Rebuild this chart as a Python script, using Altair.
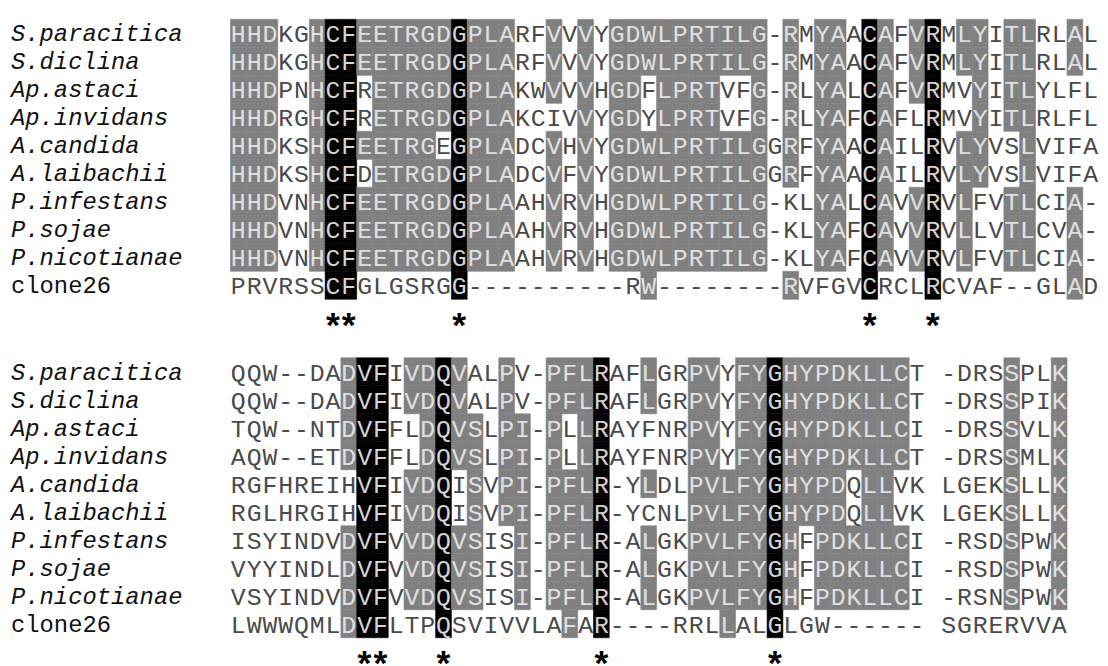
import altair as alt
import pandas as pd

names = ["S.paracitica", "S.diclina", "Ap.astaci", "Ap.invidans", "A.candida",
         "A.laibachii", "P.infestans", "P.sojae", "P.nicotianae", "clone26"]

top_seqs = [
    "HHDKGHCFEETRGDGPLARFVVVYGDWLPRTILG-RMYAACAFVRMLYITLRLAL",
    "HHDKGHCFEETRGDGPLARFVVVYGDWLPRTILG-RMYAACAFVRMLYITLRLAL",
    "HHDPNHCFRETRGDGPLAKWVVVHGDFLPRTVFG-RLYALCAFVRMVYITLYLFL",
    "HHDRGHCFRETRGDGPLAKCIVVYGDYLPRTVFG-RLYAFCAFLRMVYITLRLFL",
    "HHDKSHCFEETRGEGPLADCVHVYGDWLPRTILGGRFYAACAILRVLYVSLVIFA",
    "HHDKSHCFDETRGDGPLADCVFVYGDWLPRTILGGRFYAACAILRVLYVSLVIFA",
    "HHDVNHCFEETRGDGPLAAHVRVHGDWLPRTILG-KLYALCAVVRVLFVTLCIA-",
    "HHDVNHCFEETRGDGPLAAHVRVHGDWLPRTILG-KLYAFCAVVRVLLVTLCVA-",
    "HHDVNHCFEETRGDGPLAAHVRVHGDWLPRTILG-KLYAFCAVVRVLFVTLCIA-",
    "PRVRSSCFGLGSRGG----------RW--------RVFGVCRCLRCVAF--GLAD",
]
# g = grey box, b = black box, . = no box
top_shade = [
    "ggg..gbbgg" "ggggbggg.." "g.g.gggggg" "gggg.g.gg." "bg.gb.gg.g" "g..g.",
    "ggg..gbbgg" "ggggbggg.." "g.g.gggggg" "gggg.g.gg." "bg.gb.gg.g" "g..g.",
    "ggg..gbb.g" "ggggbggg.." "g.g.gg.ggg" "g..g.g.gg." "bg.gb..g.g" "g....",
    "ggg..gbb.g" "ggggbggg.." "..g.gg.ggg" "g..g.g.gg." "bg..b..g.g" "g....",
    "ggg..gbbgg" "ggg.bggg.." "g.g.gggggg" "gggg.g.gg." "bg..b.gg.." "g....",
    "ggg..gbb.g" "ggggbggg.." "g.g.gggggg" "gggg.g.gg." "bg..b.gg.." "g....",
    "ggg..gbbgg" "ggggbggg.." "g.g.gggggg" "gggg...gg." "bg.gb.g..g" "g..g.",
    "ggg..gbbgg" "ggggbggg.." "g.g.gggggg" "gggg...gg." "bg.gb.g..g" "g..g.",
    "ggg..gbbgg" "ggggbggg.." "g.g.gggggg" "gggg...gg." "bg.gb.g..g" "g..g.",
    "......bb.." "....b....." "......g..." ".....g...." "b...b....." "...g.",
]

bottom_seqs = [
    "QQW--DADVFIVDQVALPV-PFLRAFLGRPVYFYGHYPDKLLCT -DRSSPLK",
    "QQW--DADVFIVDQVALPV-PFLRAFLGRPVYFYGHYPDKLLCT -DRSSPIK",
    "TQW--NTDVFFLDQVSLPI-PLLRAYFNRPVYFYGHYPDKLLCI -DRSSVLK",
    "AQW--ETDVFFLDQVSLPI-PLLRAYFNRPVYFYGHYPDKLLCT -DRSSMLK",
    "RGFHREIHVFIVDQISVPI-PFLR-YLDLPVLFYGHYPDQLLVK LGEKSLLK",
    "RGLHRGIHVFIVDQISVPI-PFLR-YCNLPVLFYGHYPDQLLVK LGEKSLLK",
    "ISYINDVDVFVVDQVSISI-PFLR-ALGKPVLFYGHFPDKLLCI -RSDSPWK",
    "VYYINDLDVFVVDQVSISI-PFLR-ALGKPVLFYGHFPDKLLCI -RSDSPWK",
    "VSYINDVDVFVVDQVSISI-PFLR-ALGKPVLFYGHFPDKLLCI -RSNSPWK",
    "LWWWQMLDVFLTPQSVIVVLAFAR----RRLLALGLGW------ SGRERVVA",
]
bottom_shade = [
    ".......gbb" ".ggbg..g.." "gggb..g..g" "g.ggbggggg" "ggg......g" "..g",
    ".......gbb" ".ggbg..g.." "gggb..g..g" "g.ggbggggg" "ggg......g" "..g",
    ".......gbb" "..gbgg.gg." "g.gb.....g" "g.ggbggggg" "ggg......g" "..g",
    ".......gbb" "..gbgg.gg." "g.gb.....g" "g.ggbggggg" "ggg......g" "..g",
    "........bb" ".ggb.g.gg." "gggb..g..g" "ggggbgggg." "gg.......g" "..g",
    "........bb" ".ggb.g.gg." "gggb.....g" "ggggbgggg." "gg.......g" "..g",
    ".......gbb" ".ggbgg..g." "gggb..g..g" "ggggbg.ggg" "ggg......g" "..g",
    ".......gbb" ".ggbgg..g." "gggb..g..g" "ggggbg.ggg" "ggg......g" "..g",
    ".......gbb" ".ggbgg..g." "gggb..g..g" "ggggbg.ggg" "ggg......g" "..g",
    ".......gbb" "...b......" ".g.b......" ".g..b....." ".........." "...",
]

top_stars = [6, 7, 14, 40, 44]
bottom_stars = [8, 9, 13, 23, 34]

# layout (row units)
BLOCK_START = [0.0, 12.09]
STAR_ROW = 10.21

cells = []
for b, (seqs, shades) in enumerate([(top_seqs, top_shade), (bottom_seqs, bottom_shade)]):
    for r, (s, sh) in enumerate(zip(seqs, shades)):
        for c, (ch, k) in enumerate(zip(s, sh)):
            cells.append({"block": b, "row": r, "col": c, "ch": ch, "shade": k,
                          "g": r + BLOCK_START[b]})
cells = pd.DataFrame(cells)

labels = []
for b in range(2):
    for r, n in enumerate(names):
        labels.append({"name": n, "g": r + BLOCK_START[b], "italic": n != "clone26"})
labels = pd.DataFrame(labels)

stars = pd.DataFrame(
    [{"col": c, "g": BLOCK_START[0] + STAR_ROW, "s": "*"} for c in top_stars]
    + [{"col": c, "g": BLOCK_START[1] + STAR_ROW, "s": "*"} for c in bottom_stars]
)

W, H = 1100, 658
xs = alt.Scale(domain=[-14.59, 54.59], nice=False, zero=False)
ys = alt.Scale(domain=[-0.819, 22.514], nice=False, zero=False, reverse=True)

fill_scale = alt.Scale(domain=["g", "b"], range=["#808080", "#000000"])

base = alt.Chart(cells)

boxes = base.transform_filter("datum.shade != '.'").transform_calculate(
    x0="datum.col - 0.5", x1="datum.col + 0.5", y0="datum.g - 0.5", y1="datum.g + 0.5"
).mark_rect(strokeWidth=0.6).encode(
    x=alt.X("x0:Q", scale=xs, axis=None),
    x2="x1:Q",
    y=alt.Y("y0:Q", scale=ys, axis=None),
    y2="y1:Q",
    fill=alt.Fill("shade:N", scale=fill_scale, legend=None),
    stroke=alt.Stroke("shade:N", scale=fill_scale, legend=None),
)

letters = base.transform_filter("datum.ch != ' '").transform_calculate(
    tc="datum.shade == 'g' ? '#e0e0e0' : (datum.shade == 'b' ? '#d4d4d4' : '#4a4a4a')"
).mark_text(font="Liberation Mono", fontSize=25, baseline="middle",
            align="center", dy=1).encode(
    x=alt.X("col:Q", scale=xs, axis=None),
    y=alt.Y("g:Q", scale=ys, axis=None),
    text="ch:N",
    color=alt.Color("tc:N", scale=None, legend=None),
)

name_it = alt.Chart(labels).transform_filter("datum.italic").mark_text(
    font="Liberation Mono", fontSize=24, fontStyle="italic", align="left",
    baseline="middle", color="#111111", dy=1
).encode(
    x=alt.value(3),
    y=alt.Y("g:Q", scale=ys, axis=None),
    text="name:N",
)
name_up = alt.Chart(labels).transform_filter("!datum.italic").mark_text(
    font="Liberation Mono", fontSize=24, align="left",
    baseline="middle", color="#111111", dy=1
).encode(
    x=alt.value(3),
    y=alt.Y("g:Q", scale=ys, axis=None),
    text="name:N",
)

star_marks = alt.Chart(stars).mark_text(
    font="Liberation Mono", fontSize=36, fontWeight="bold", align="center",
    baseline="middle", color="#000000", dy=9
).encode(
    x=alt.X("col:Q", scale=xs, axis=None),
    y=alt.Y("g:Q", scale=ys, axis=None),
    text="s:N",
)

chart = alt.layer(boxes, letters, name_it, name_up, star_marks).properties(
    width=W, height=H, padding=0, autosize=alt.AutoSizeParams(type="none"),
    background="#ffffff"
).configure_view(strokeWidth=0)

chart.save("out.html", embed_options={"renderer": "svg", "actions": False})
